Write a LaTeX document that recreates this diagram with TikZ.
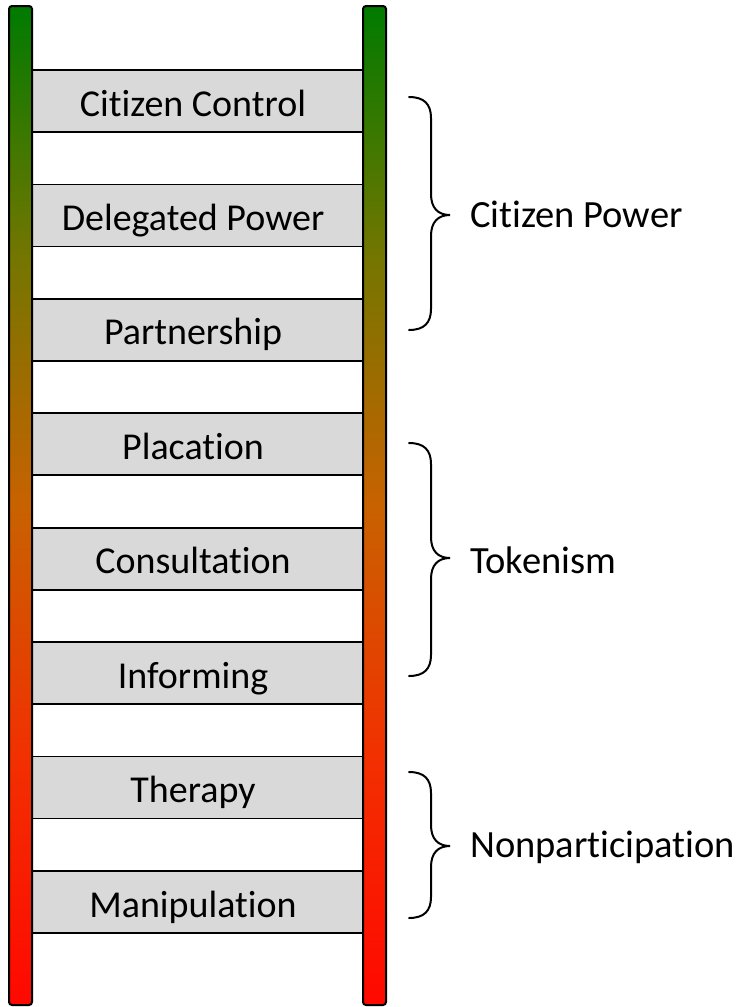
\documentclass[tikz,border=0pt]{standalone}
\usepackage{fontspec}
\setmainfont[Ligatures=NoCommon]{Carlito}
\definecolor{rtop}{RGB}{0,122,0}
\definecolor{r25}{RGB}{115,118,0}
\definecolor{r50}{RGB}{200,98,0}
\definecolor{r75}{RGB}{242,48,0}
\definecolor{rbot}{RGB}{255,8,0}
\definecolor{runggray}{RGB}{217,217,217}
\pgfdeclareverticalshading{railshade}{100bp}{color(0bp)=(rbot); color(25bp)=(rbot); color(37.5bp)=(r75); color(50bp)=(r50); color(62.5bp)=(r25); color(75bp)=(rtop); color(100bp)=(rtop)}
\begin{document}
\begin{tikzpicture}[x=1pt,y=-1pt,
  rail/.style={draw=black,line width=2pt,rounded corners=3pt,shading=railshade},
  rungbox/.style={draw=black,line width=1.6pt,fill=runggray},
  runglabel/.style={anchor=base,font=\fontsize{38}{40}\selectfont,inner sep=0pt},
  grouplabel/.style={anchor=base west,font=\fontsize{38.5}{40}\selectfont,inner sep=0pt},
  bracepath/.style={draw=black,line width=2pt,line cap=round}]
\useasboundingbox (0,0) rectangle (741,1007);
% rungs
\foreach \i/\t in {0/Citizen Control,1/Delegated Power,2/Partnership,3/Placation,4/Consultation,5/Informing,6/Therapy,7/Manipulation}{
  \pgfmathsetmacro{\yt}{70+114.43*\i}
  \pgfmathsetmacro{\yb}{\yt+62}
  \pgfmathsetmacro{\yl}{\yt+46}
  \draw[rungbox] (30,\yt) rectangle (365,\yb);
  \node[runglabel] (rung\i) at (193,\yl) {\t};
}
% rails
\draw[rail] (9,6) rectangle (32,1005);
\draw[rail] (363,6) rectangle (386,1005);
% braces
\foreach \yT/\yM/\yB/\n in {97/215/330/a,443/558/676/b,772/846/918/c}{
  \coordinate (bt\n) at (409,\yT);
  \coordinate (bm\n) at (450,\yM);
  \coordinate (bb\n) at (409,\yB);
  \draw[bracepath] (bt\n) .. controls (424,\yT) and (431,\yT+7) .. (431,\yT+21)
    -- (431,\yM-21) .. controls (431,\yM-7) and (438,\yM) .. (bm\n)
    .. controls (438,\yM) and (431,\yM+7) .. (431,\yM+21)
    -- (431,\yB-21) .. controls (431,\yB-7) and (424,\yB) .. (bb\n);
}
\node[grouplabel] (gpower) at (470,227) {Citizen Power};
\node[grouplabel] (gtoken) at (470,573) {Tokenism};
\node[grouplabel] (gnon) at (470,857) {Nonparticipation};
\end{tikzpicture}
\end{document}
